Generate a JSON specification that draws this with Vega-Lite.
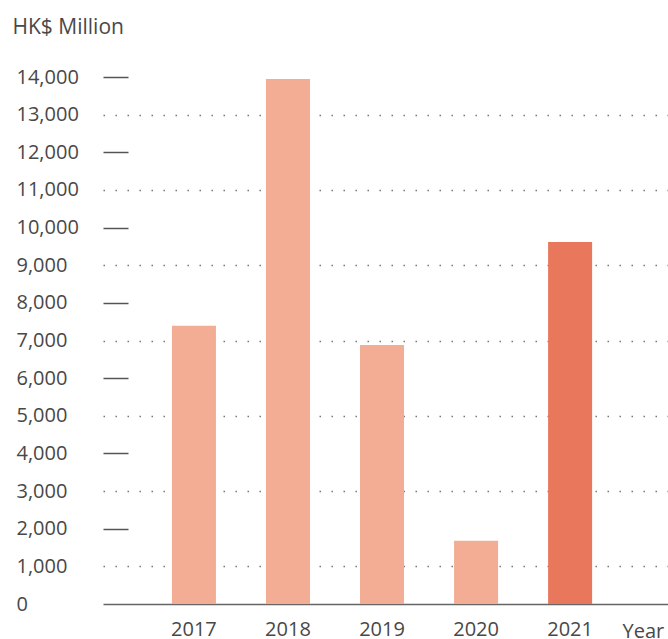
{
  "$schema": "https://vega.github.io/schema/vega-lite/v6.json",
  "autosize": "none",
  "padding": {"left": 103, "top": 77, "right": 0, "bottom": 35},
  "width": 565,
  "height": 527,
  "background": "white",
  "config": {
    "view": {"stroke": null},
    "font": "Open Sans"
  },
  "data": {
    "values": [
      {"year": "2017", "value": 7390},
      {"year": "2018", "value": 13950},
      {"year": "2019", "value": 6880},
      {"year": "2020", "value": 1680},
      {"year": "2021", "value": 9620}
    ]
  },
  "mark": {"type": "bar"},
  "encoding": {
    "x": {
      "field": "year",
      "type": "nominal",
      "sort": null,
      "scale": {"paddingInner": 0.532, "paddingOuter": 0.77, "align": 0.476},
      "axis": {
        "title": "Year",
        "titleFont": "Open Sans",
        "titleFontSize": 20,
        "titleFontWeight": "normal",
        "titleColor": "#484848",
        "titleAlign": "left",
        "titleAnchor": "start",
        "titleBaseline": "alphabetic",
        "titleX": 519,
        "titleY": 33,
        "labelAngle": 0,
        "labelFont": "Open Sans",
        "labelFontSize": 20,
        "labelColor": "#484848",
        "labelPadding": 15,
        "ticks": false,
        "domain": true,
        "domainColor": "#666666",
        "domainWidth": 1.5,
        "grid": false
      }
    },
    "y": {
      "field": "value",
      "type": "quantitative",
      "scale": {"domain": [0, 14000], "nice": false},
      "axis": {
        "title": "HK$ Million",
        "titleFont": "Open Sans",
        "titleFontSize": 21,
        "titleFontWeight": "normal",
        "titleColor": "#484848",
        "titleAngle": 0,
        "titleAlign": "left",
        "titleBaseline": "alphabetic",
        "titleX": -91,
        "titleY": -44,
        "values": [0, 1000, 2000, 3000, 4000, 5000, 6000, 7000, 8000, 9000, 10000, 11000, 12000, 13000, 14000],
        "format": ",d",
        "labelFont": "Open Sans",
        "labelFontSize": 20,
        "labelColor": "#484848",
        "labelAlign": "left",
        "labelPadding": 112,
        "domain": false,
        "ticks": true,
        "tickSize": -25,
        "tickWidth": 1.5,
        "tickColor": "#555555",
        "tickOpacity": {"condition": {"test": "datum.value % 2000 === 0 && datum.value > 0", "value": 1}, "value": 0},
        "grid": true,
        "gridColor": "#777777",
        "gridWidth": 1.5,
        "gridDash": [1.5, 10.5],
        "gridOpacity": {"condition": {"test": "datum.value % 2000 === 1000", "value": 1}, "value": 0}
      }
    },
    "color": {
      "condition": {"test": "datum.year === '2021'", "value": "#E8775C"},
      "value": "#F2AD94"
    }
  }
}
